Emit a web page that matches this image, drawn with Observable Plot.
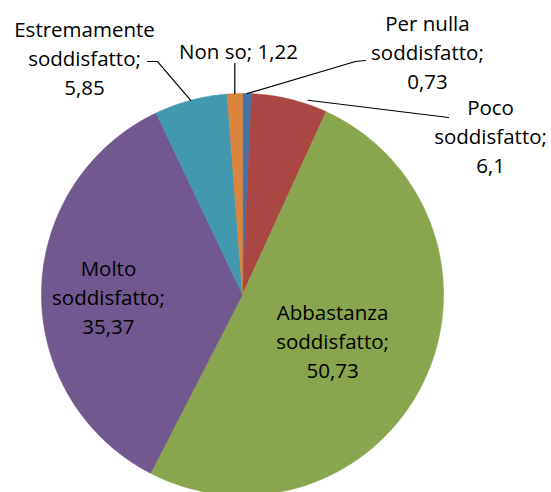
<!DOCTYPE html>
<html><head><meta charset="utf-8">
<script src="https://cdn.jsdelivr.net/npm/d3@7"></script>
<script src="https://cdn.jsdelivr.net/npm/@observablehq/plot@0.6"></script>
<style>body{margin:0;background:#fff}#chart svg{display:block}</style></head>
<body><div id="chart"></div>
<script>
// ---- data ----
const categories = ["Per nulla soddisfatto", "Poco soddisfatto", "Abbastanza soddisfatto", "Molto soddisfatto", "Estremamente soddisfatto", "Non so"];
const values = [0.73, 6.1, 50.73, 35.37, 5.85, 1.22];
const colors = ["#4572A7", "#AA4643", "#89A54E", "#71588F", "#4198AF", "#DB843D"];

// ---- layout (pie centre/radius in px, labels in radius units) ----
const W = 551, H = 492, CX = 242, CY = 294, R = 201;
const labelPos = [[0.920, 1.214], [1.234, 0.796], [0.448, -0.224], [-0.667, -0.005], [-0.786, 1.184], [-0.020, 1.219]];
const wrap = [true, true, true, true, true, false];
// leader: position within slice (fraction), radius factor, then px offsets from label centre
const leaders = [
  {at: 0.5, r: 1.0, pts: [[-72, 11], [-62, 10]]},
  {at: 0.73, r: 1.02, pts: [[-42, -17]]},
  null,
  null,
  {at: 0.5, r: 1.0, pts: [[73, 5], [63, 5]]},
  {at: 0.5, r: 1.0, pts: [[null, 14]]}
];

const fmt = v => v.toLocaleString("it-IT");
const arcs = d3.pie().sort(null).value(d => d)(values);

// slice polygons in unit coordinates
const slicePts = [];
arcs.forEach((a, i) => {
  const n = Math.max(2, Math.ceil((a.endAngle - a.startAngle) / (Math.PI / 360)));
  slicePts.push({cat: categories[i], u: 0, v: 0});
  for (let k = 0; k <= n; k++) {
    const t = a.startAngle + (a.endAngle - a.startAngle) * k / n;
    slicePts.push({cat: categories[i], u: Math.sin(t), v: Math.cos(t)});
  }
  slicePts.push({cat: categories[i], u: 0, v: 0});
});

const labels = categories.map((c, i) => {
  const name = wrap[i] ? c.replace(/ (\S+)$/, "\n$1") : c;
  return {
    u: labelPos[i][0], v: labelPos[i][1],
    text: name + ";" + (wrap[i] ? "\n" : " ") + fmt(values[i])
  };
});

const leaderPts = [];
leaders.forEach((L, i) => {
  if (!L) return;
  const a = arcs[i];
  const t = a.startAngle + (a.endAngle - a.startAngle) * L.at;
  const su = L.r * Math.sin(t), sv = L.r * Math.cos(t);
  leaderPts.push({cat: categories[i], u: su, v: sv});
  L.pts.forEach(([dx, dy]) => {
    leaderPts.push({
      cat: categories[i],
      u: dx === null ? su : labelPos[i][0] + dx / R,
      v: labelPos[i][1] - dy / R
    });
  });
});

const chart = Plot.plot({
  width: W, height: H,
  marginLeft: 0, marginRight: 0, marginTop: 0, marginBottom: 0,
  x: {domain: [(0 - CX) / R, (W - CX) / R], axis: null},
  y: {domain: [(CY - H) / R, CY / R], axis: null},
  color: {domain: categories, range: colors},
  marks: [
    Plot.line(slicePts, {x: "u", y: "v", z: "cat", fill: "cat", stroke: "cat", strokeWidth: 0.6, curve: "linear"}),
    Plot.line(leaderPts, {x: "u", y: "v", z: "cat", stroke: "black", strokeWidth: 1.2}),
    Plot.text(labels, {x: "u", y: "v", text: "text", fontSize: 20.5, fontFamily: "Open Sans", lineHeight: 1.42, fill: "black", textAnchor: "middle", lineAnchor: "middle"})
  ]
});
document.getElementById("chart").appendChild(chart);
</script>
</body></html>
